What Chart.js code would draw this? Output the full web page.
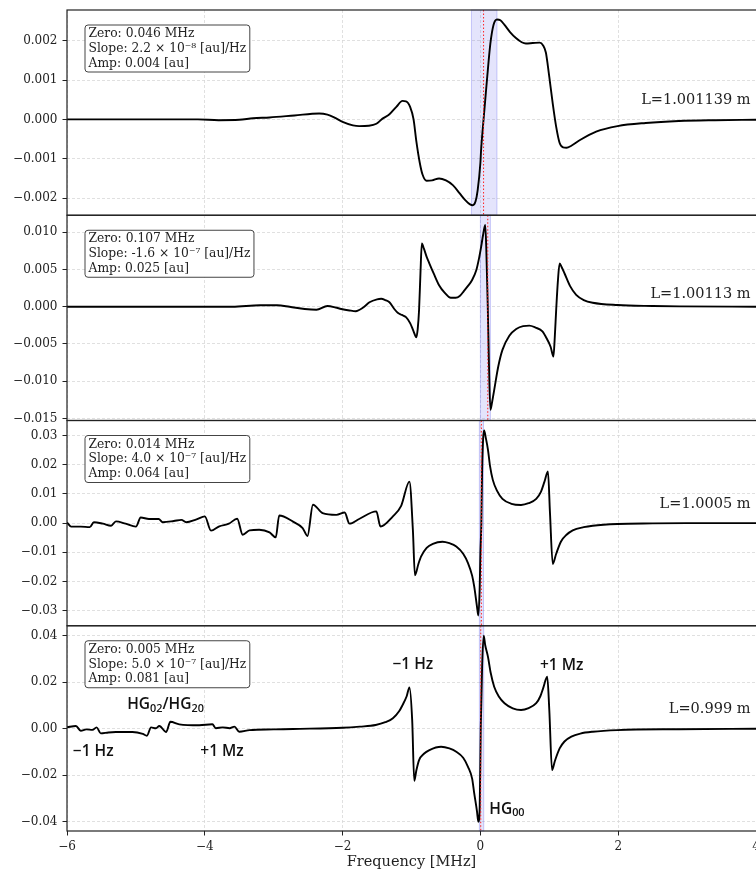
<!DOCTYPE html>
<html>
<head>
<meta charset="utf-8">
<script src="https://cdn.jsdelivr.net/npm/chart.js@4.4.1/dist/chart.umd.min.js"></script>
<style>
  html, body { margin: 0; padding: 0; background: #fff; overflow: hidden; }
  #wrap { width: 756px; height: 875px; }
</style>
</head>
<body>
<div id="wrap"><canvas id="scan" width="756" height="875"></canvas></div>
<script>
// error signals vs. frequency offset, one panel per cavity length
var freq1 = [-6.0, -5.0, -4.5, -4.1, -3.8, -3.5, -3.3, -3.06, -2.7, -2.34, -2.22, -2.1, -2.0, -1.85, -1.76, -1.62, -1.51, -1.42, -1.32, -1.22, -1.13, -1.08, -1.02, -0.97, -0.93, -0.88, -0.84, -0.78, -0.70, -0.60, -0.50, -0.40, -0.30, -0.22, -0.15, -0.11, -0.07, -0.04, 0.0, 0.01, 0.046, 0.07, 0.10, 0.145, 0.19, 0.24, 0.29, 0.35, 0.43, 0.52, 0.60, 0.66, 0.76, 0.86, 0.91, 0.95, 0.98, 1.00, 1.05, 1.10, 1.15, 1.20, 1.25, 1.32, 1.44, 1.68, 1.99, 2.4, 2.88, 3.4, 4.0];
var sig1 = [0, 0, 0, 0, -0.00002, -0.00001, 0.00003, 0.00005, 0.0001, 0.00015, 0.00012, 0.00003, -0.00006, -0.00015, -0.00017, -0.00016, -0.00011, 0.00002, 0.00013, 0.00032, 0.00047, 0.00046, 0.00032, 0.0, -0.00055, -0.0011, -0.0014, -0.00156, -0.00155, -0.0015, -0.00155, -0.00167, -0.00188, -0.00205, -0.00216, -0.00218, -0.00208, -0.0018, -0.0011, -0.00078, 0.0, 0.00049, 0.0011, 0.00193, 0.0024, 0.00254, 0.00252, 0.0024, 0.00222, 0.00206, 0.00196, 0.00193, 0.00194, 0.00195, 0.00188, 0.0017, 0.00135, 0.00108, 0.0004, -0.00019, -0.0006, -0.00071, -0.00072, -0.00067, -0.00053, -0.00031, -0.00017, -0.00009, -0.00004, -0.00002, -0.00001];

var freq2 = [-6.0, -4.0, -3.6, -3.2, -2.95, -2.77, -2.55, -2.38, -2.22, -2.10, -2.02, -1.90, -1.81, -1.70, -1.61, -1.50, -1.44, -1.38, -1.32, -1.25, -1.20, -1.14, -1.08, -1.02, -0.97, -0.93, -0.91, -0.89, -0.87, -0.85, -0.82, -0.78, -0.74, -0.67, -0.60, -0.52, -0.43, -0.36, -0.30, -0.24, -0.18, -0.12, -0.06, -0.02, 0.01, 0.04, 0.07, 0.085, 0.107, 0.125, 0.145, 0.17, 0.20, 0.26, 0.32, 0.42, 0.52, 0.62, 0.71, 0.80, 0.90, 0.97, 1.02, 1.06, 1.08, 1.10, 1.125, 1.15, 1.18, 1.22, 1.30, 1.39, 1.50, 1.63, 1.99, 2.5, 2.89, 4.0];
var sig2 = [0, 0, 0, 0.0002, 0.0002, 0.0, -0.0003, -0.0004, 0.0001, -0.0001, -0.0003, -0.0005, -0.0006, -0.0001, 0.0006, 0.001, 0.00107, 0.0009, 0.0006, -0.0003, -0.0008, -0.0011, -0.0014, -0.0022, -0.0033, -0.0041, -0.003, -0.0004, 0.0045, 0.0085, 0.0078, 0.0067, 0.0058, 0.0043, 0.0029, 0.0019, 0.0012, 0.0012, 0.00143, 0.0021, 0.0028, 0.0036, 0.0049, 0.0065, 0.008, 0.0097, 0.011, 0.008, 0.0, -0.008, -0.01385, -0.0128, -0.0112, -0.008, -0.0058, -0.0039, -0.003, -0.0026, -0.00254, -0.0028, -0.0033, -0.0044, -0.0054, -0.0067, -0.004, -0.0004, 0.0035, 0.0058, 0.0053, 0.0045, 0.0028, 0.0016, 0.0009, 0.00054, 0.00023, 0.0001, 0.00005, 0];

var freq3 = [-6.0, -5.94, -5.80, -5.67, -5.61, -5.48, -5.36, -5.29, -5.15, -5.0, -4.93, -4.81, -4.67, -4.61, -4.45, -4.34, -4.27, -4.12, -4.0, -3.91, -3.79, -3.65, -3.53, -3.45, -3.35, -3.21, -3.06, -2.97, -2.92, -2.72, -2.58, -2.51, -2.43, -2.29, -2.09, -1.97, -1.90, -1.76, -1.51, -1.45, -1.27, -1.15, -1.03, -0.98, -0.95, -0.90, -0.86, -0.78, -0.69, -0.55, -0.45, -0.35, -0.25, -0.18, -0.12, -0.09, -0.05, -0.03, -0.01, 0.0, 0.014, 0.025, 0.054, 0.08, 0.11, 0.14, 0.18, 0.24, 0.32, 0.45, 0.59, 0.70, 0.81, 0.88, 0.93, 0.98, 1.01, 1.05, 1.10, 1.17, 1.25, 1.34, 1.50, 1.63, 1.99, 2.5, 3.0, 4.0];
var sig3 = [0.0002, -0.0012, -0.0012, -0.0014, 0.0003, -0.0002, -0.0009, 0.0006, -0.0002, -0.0012, 0.0019, 0.0014, 0.0014, 0.0003, 0.0007, 0.0011, 0.0003, 0.0013, 0.0023, -0.0026, -0.0011, -0.0002, 0.0015, -0.004, -0.0025, -0.0023, -0.0032, -0.0049, 0.0026, 0.0005, -0.0017, -0.0044, 0.0063, 0.0034, 0.0028, 0.0036, -0.0002, 0.0014, 0.004, -0.0012, 0.0023, 0.0059, 0.0142, -0.0023, -0.0179, -0.014, -0.0114, -0.0085, -0.0071, -0.0064, -0.0069, -0.008, -0.0105, -0.0137, -0.018, -0.0217, -0.0285, -0.0317, -0.022, -0.0103, 0.0, 0.0183, 0.0317, 0.029, 0.0251, 0.0195, 0.0148, 0.0111, 0.0083, 0.0066, 0.0062, 0.0068, 0.0083, 0.0108, 0.0142, 0.0177, 0.0034, -0.014, -0.0105, -0.0063, -0.004, -0.0025, -0.0014, -0.0009, -0.0003, -0.0001, 0.0, 0.0];

var freq4 = [-6.0, -5.87, -5.80, -5.72, -5.63, -5.57, -5.51, -5.40, -5.29, -5.05, -4.90, -4.84, -4.78, -4.71, -4.66, -4.56, -4.50, -4.37, -4.08, -3.89, -3.84, -3.74, -3.64, -3.57, -3.50, -3.35, -3.0, -2.72, -2.0, -1.75, -1.52, -1.38, -1.27, -1.18, -1.13, -1.07, -1.03, -0.99, -0.96, -0.93, -0.89, -0.82, -0.74, -0.57, -0.45, -0.35, -0.25, -0.18, -0.12, -0.09, -0.05, -0.03, -0.01, 0.005, 0.025, 0.048, 0.07, 0.11, 0.15, 0.20, 0.27, 0.35, 0.47, 0.59, 0.70, 0.81, 0.87, 0.91, 0.97, 1.0, 1.04, 1.08, 1.15, 1.22, 1.32, 1.45, 1.63, 1.99, 2.88, 4.0];
var sig4 = [0.0006, 0.0012, -0.0009, -0.0003, -0.0005, 0.0006, -0.002, -0.0016, -0.0014, -0.0014, -0.0022, -0.003, 0.0006, 0.0002, 0.0012, -0.0014, 0.003, 0.0019, 0.0015, 0.0019, 0.0002, 0.0006, 0.0002, 0.0009, -0.0013, -0.0006, -0.0003, -0.0001, 0.0004, 0.0009, 0.0016, 0.0028, 0.0045, 0.0075, 0.0102, 0.014, 0.0178, 0.0037, -0.0225, -0.018, -0.0135, -0.0108, -0.0092, -0.0078, -0.0085, -0.0099, -0.0125, -0.0164, -0.0215, -0.0278, -0.0355, -0.0401, -0.034, 0.0, 0.027, 0.0401, 0.036, 0.031, 0.024, 0.0181, 0.0138, 0.011, 0.0088, 0.0081, 0.0089, 0.011, 0.014, 0.0174, 0.0224, 0.0081, -0.0178, -0.014, -0.0085, -0.0055, -0.0034, -0.0021, -0.0013, -0.0006, -0.0002, 0.0];

// fit results per panel
var zeroMHz = [0.046, 0.107, 0.014, 0.005];
var slopeMant = ['2.2', '-1.6', '4.0', '5.0'];
var slopeExp = ['⁻⁸', '⁻⁷', '⁻⁷', '⁻⁷'];
var ampAu = ['0.004', '0.025', '0.064', '0.081'];
var lengthM = ['1.001139', '1.00113', '1.0005', '0.999'];
var lengthLabelY = [0.00049, 0.0017, 0.0065, 0.0084];
var spanLo = [-0.13, 0.0, -0.015, -0.015];
var spanHi = [0.24, 0.145, 0.045, 0.048];

// axes
var xTicks = [-6, -4, -2, 0, 2, 4];
var yMin = [-0.002435, -0.01528, -0.03517, -0.0441];
var yMax = [0.00278, 0.01229, 0.03514, 0.0444];
var yTicks = [
  [-0.002, -0.001, 0, 0.001, 0.002],
  [-0.015, -0.010, -0.005, 0, 0.005, 0.010],
  [-0.03, -0.02, -0.01, 0, 0.01, 0.02, 0.03],
  [-0.04, -0.02, 0, 0.02, 0.04]
];
var yDec = [3, 3, 2, 2];

// mode labels in the bottom panel
var modeText = ['−1 Hz', '+1 Mz', '−1 Hz', '+1 Mz', 'HG_{02}/HG_{20}', 'HG_{00}'];
var modeX = [-0.98, 1.18, -5.62, -3.75, -4.57, 0.385];
var modeY = [0.0275, 0.0272, -0.0099, -0.0099, 0.0102, -0.0347];

var serif = "'DejaVu Serif', serif";
var sans = "'Open Sans', sans-serif";

function fmt(v, d) {
  if (Math.abs(v) < 1e-12) return (0).toFixed(d);
  return v.toFixed(d).replace('-', '−');
}

function pts(xs, ys) {
  return xs.map(function (x, i) { return {x: x, y: ys[i]}; });
}

function yScale(i) {
  return {
    type: 'linear',
    position: 'left',
    stack: 'panels',
    stackWeight: 1,
    min: yMin[i],
    max: yMax[i],
    afterBuildTicks: function (s) { s.ticks = yTicks[i].map(function (v) { return {value: v}; }); },
    afterFit: function (s) { s.width = 67; s.paddingTop = 0; s.paddingBottom = 0; },
    ticks: {
      callback: function (v) { return fmt(v, yDec[i]); },
      font: {family: serif, size: 12},
      color: '#222',
      padding: 5
    },
    grid: {color: '#d8d8d8', lineWidth: 0.8, tickLength: 4.5, tickColor: '#222', tickWidth: 1, tickBorderDash: []},
    border: {display: false, dash: [3, 2]}
  };
}

function drawRich(ctx, text, cx, cy, size) {
  // splits "HG_{02}" into normal and subscript pieces
  var parts = [];
  var re = /_\{(.*?)\}/g, last = 0, m;
  while ((m = re.exec(text)) !== null) {
    if (m.index > last) parts.push({t: text.slice(last, m.index), sub: false});
    parts.push({t: m[1], sub: true});
    last = re.lastIndex;
  }
  if (last < text.length) parts.push({t: text.slice(last), sub: false});
  var total = 0;
  parts.forEach(function (p) {
    ctx.font = '600 ' + (p.sub ? size * 0.7 : size) + 'px ' + sans;
    p.w = ctx.measureText(p.t).width;
    total += p.w;
  });
  var x = cx - total / 2;
  ctx.textBaseline = 'middle';
  ctx.textAlign = 'left';
  parts.forEach(function (p) {
    ctx.font = '600 ' + (p.sub ? size * 0.7 : size) + 'px ' + sans;
    ctx.fillText(p.t, x, p.sub ? cy + size * 0.22 : cy);
    x += p.w;
  });
}

var panelDecor = {
  id: 'panelDecor',
  beforeDatasetsDraw: function (chart) {
    var ctx = chart.ctx, x = chart.scales.x;
    ctx.save();
    for (var i = 0; i < 4; i++) {
      var y = chart.scales['y' + (i + 1)];
      var a = x.getPixelForValue(spanLo[i]), b = x.getPixelForValue(spanHi[i]);
      ctx.fillStyle = 'rgba(90, 90, 235, 0.16)';
      ctx.fillRect(a, y.top, b - a, y.bottom - y.top);
      ctx.strokeStyle = 'rgba(90, 90, 235, 0.3)';
      ctx.lineWidth = 1;
      ctx.strokeRect(a, y.top, b - a, y.bottom - y.top);
    }
    ctx.restore();
  },
  afterDatasetsDraw: function (chart) {
    var ctx = chart.ctx, x = chart.scales.x, area = chart.chartArea;
    ctx.save();
    for (var i = 0; i < 4; i++) {
      var y = chart.scales['y' + (i + 1)];
      // fitted zero crossing
      var zx = x.getPixelForValue(zeroMHz[i]);
      ctx.strokeStyle = '#ff2020';
      ctx.lineWidth = 1;
      ctx.setLineDash([1.5, 2]);
      ctx.beginPath();
      ctx.moveTo(zx, y.top);
      ctx.lineTo(zx, y.bottom);
      ctx.stroke();
      ctx.setLineDash([]);

      // frame
      ctx.strokeStyle = '#222';
      ctx.lineWidth = 1.2;
      ctx.strokeRect(area.left, y.top, area.right - area.left + 2, y.bottom - y.top);

      // fit summary box
      var lines = ['Zero: ' + zeroMHz[i].toFixed(3) + ' MHz',
                   'Slope: ' + slopeMant[i] + ' × 10' + slopeExp[i] + ' [au]/Hz',
                   'Amp: ' + ampAu[i] + ' [au]'];
      ctx.font = '12.3px ' + serif;
      var w = 0;
      lines.forEach(function (l) { w = Math.max(w, ctx.measureText(l).width); });
      var bx = area.left + 18, by = y.top + 15, bw = w + 7, bh = 47;
      ctx.beginPath();
      ctx.roundRect(bx, by, bw, bh, 3);
      ctx.fillStyle = '#fff';
      ctx.fill();
      ctx.strokeStyle = '#444';
      ctx.lineWidth = 1;
      ctx.stroke();
      ctx.fillStyle = '#222';
      ctx.textAlign = 'left';
      ctx.textBaseline = 'middle';
      lines.forEach(function (l, k) { ctx.fillText(l, bx + 3.5, by + 9 + k * 14.7); });

      // cavity length
      ctx.font = '14.5px ' + serif;
      ctx.textAlign = 'right';
      ctx.fillText('L=' + lengthM[i] + ' m', x.getPixelForValue(3.92), y.getPixelForValue(lengthLabelY[i]));
    }
    var y4 = chart.scales.y4;
    ctx.fillStyle = '#111';
    for (var k = 0; k < modeText.length; k++) {
      drawRich(ctx, modeText[k], x.getPixelForValue(modeX[k]), y4.getPixelForValue(modeY[k]), 15.5);
    }
    ctx.restore();
  }
};

function lineSet(xs, ys, axis) {
  return {
    data: pts(xs, ys),
    yAxisID: axis,
    borderColor: '#000',
    borderWidth: 1.9,
    pointRadius: 0,
    fill: false,
    cubicInterpolationMode: 'monotone'
  };
}

// stacked y scales fill from the bottom up, so the lowest panel comes first
var scales = {
  x: {
    type: 'linear',
    min: -6,
    max: 4,
    afterBuildTicks: function (s) { s.ticks = xTicks.map(function (v) { return {value: v}; }); },
    afterFit: function (s) { s.paddingLeft = 0; s.paddingRight = 0; s.height = 44; },
    ticks: {
      callback: function (v) { return fmt(v, 0); },
      font: {family: serif, size: 12},
      color: '#222',
      padding: 4,
      maxRotation: 0
    },
    grid: {color: '#d8d8d8', lineWidth: 0.8, tickLength: 4.5, tickColor: '#222', tickWidth: 1, tickBorderDash: []},
    border: {display: false, dash: [3, 2]},
    title: {display: true, text: 'Frequency [MHz]', font: {family: serif, size: 14.5}, color: '#222', padding: {top: 0, bottom: 4}}
  }
};
scales.y4 = yScale(3);
scales.y3 = yScale(2);
scales.y2 = yScale(1);
scales.y1 = yScale(0);

new Chart(document.getElementById('scan'), {
  type: 'line',
  data: {
    datasets: [
      lineSet(freq1, sig1, 'y1'),
      lineSet(freq2, sig2, 'y2'),
      lineSet(freq3, sig3, 'y3'),
      lineSet(freq4, sig4, 'y4')
    ]
  },
  options: {
    responsive: false,
    animation: false,
    devicePixelRatio: 1,
    layout: {padding: {top: 10, left: 0, right: 0, bottom: 0}},
    plugins: {legend: {display: false}, tooltip: {enabled: false}},
    scales: scales
  },
  plugins: [panelDecor]
});
</script>
</body>
</html>
